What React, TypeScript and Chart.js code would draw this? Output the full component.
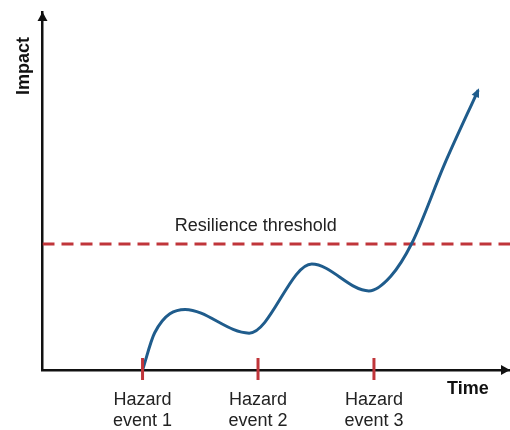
import React, { useEffect, useRef } from "react";
import { Chart, registerables } from "chart.js";

Chart.register(...registerables);

// Data (time units on x, impact units on y)
const curveTime = [2.14, 2.4, 3.05, 4.42, 5.76, 6.98, 7.45, 7.9, 8.6, 9.32];
const curveImpact = [0, 1.04, 1.69, 1.03, 2.96, 2.21, 2.62, 3.54, 5.75, 7.82];
const eventTimes = [2.14, 4.61, 7.09];
const eventLabels = [["Hazard", "event 1"], ["Hazard", "event 2"], ["Hazard", "event 3"]];
const thresholdValue = 3.52;
const thresholdLabel = "Resilience threshold";
const xTitle = "Time";
const yTitle = "Impact";

const FONT = "'Liberation Sans', Arial, sans-serif";
const BLUE = "#1f5c8c";
const RED = "#c0353a";

const overlay = {
  id: "overlay",
  afterDraw(chart: any) {
    const ctx = chart.ctx;
    const xs = chart.scales.x;
    const ys = chart.scales.y;
    const area = chart.chartArea;
    ctx.save();
    // axis arrowheads
    ctx.fillStyle = "#111";
    const ax = area.left;
    ctx.beginPath();
    ctx.moveTo(ax, area.top);
    ctx.lineTo(ax - 5, area.top + 9);
    ctx.lineTo(ax + 5, area.top + 9);
    ctx.closePath();
    ctx.fill();
    const by = area.bottom;
    ctx.beginPath();
    ctx.moveTo(area.right, by);
    ctx.lineTo(area.right - 9, by - 5);
    ctx.lineTo(area.right - 9, by + 5);
    ctx.closePath();
    ctx.fill();

    // event tick marks
    ctx.strokeStyle = RED;
    ctx.lineWidth = 3;
    eventTimes.forEach((t) => {
      const px = xs.getPixelForValue(t);
      ctx.beginPath();
      ctx.moveTo(px, by - 12);
      ctx.lineTo(px, by + 10);
      ctx.stroke();
    });

    // arrowhead at curve end
    const n = curveTime.length;
    const x1 = xs.getPixelForValue(curveTime[n - 2]);
    const y1 = ys.getPixelForValue(curveImpact[n - 2]);
    const x2 = xs.getPixelForValue(curveTime[n - 1]);
    const y2 = ys.getPixelForValue(curveImpact[n - 1]);
    const ang = Math.atan2(y2 - y1, x2 - x1);
    const len = 9;
    const half = 4;
    const tipX = x2 + Math.cos(ang) * 2;
    const tipY = y2 + Math.sin(ang) * 2;
    ctx.fillStyle = BLUE;
    ctx.beginPath();
    ctx.moveTo(tipX, tipY);
    ctx.lineTo(tipX - Math.cos(ang) * len - Math.sin(ang) * half, tipY - Math.sin(ang) * len + Math.cos(ang) * half);
    ctx.lineTo(tipX - Math.cos(ang) * len + Math.sin(ang) * half, tipY - Math.sin(ang) * len - Math.cos(ang) * half);
    ctx.closePath();
    ctx.fill();

    // texts
    ctx.fillStyle = "#222";
    ctx.font = `18px ${FONT}`;
    ctx.textAlign = "center";
    ctx.textBaseline = "alphabetic";
    ctx.fillText(thresholdLabel, xs.getPixelForValue(4.56), ys.getPixelForValue(thresholdValue) - 13);

    ctx.fillStyle = "#111";
    ctx.font = `bold 18px ${FONT}`;
    ctx.textAlign = "left";
    ctx.fillText(xTitle, 447, 394);

    ctx.translate(28.5, 66);
    ctx.rotate(-Math.PI / 2);
    ctx.textAlign = "center";
    ctx.fillText(yTitle, 0, 0);
    ctx.restore();
  },
};

export default function App() {
  const ref = useRef<HTMLCanvasElement | null>(null);
  useEffect(() => {
    if (!ref.current) return;
    const chart = new Chart(ref.current, {
      type: "line",
      data: {
        datasets: [
          {
            data: curveTime.map((t, i) => ({ x: t, y: curveImpact[i] })),
            borderColor: BLUE,
            borderWidth: 3,
            pointRadius: 0,
            cubicInterpolationMode: "monotone",
            fill: false,
          },
          {
            data: [
              { x: 0, y: thresholdValue },
              { x: 10, y: thresholdValue },
            ],
            borderColor: RED,
            borderWidth: 3,
            borderDash: [12, 7],
            pointRadius: 0,
            fill: false,
          },
        ],
      },
      options: {
        animation: false,
        responsive: false,
        maintainAspectRatio: false,
        layout: { padding: { left: 42.5, right: 0, top: 12, bottom: 0 } },
        plugins: { legend: { display: false }, tooltip: { enabled: false } },
        scales: {
          x: {
            type: "linear",
            min: 0,
            max: 10,
            grid: { display: false, drawTicks: false },
            border: { display: true, color: "#111", width: 2.5 },
            afterBuildTicks: (scale: any) => {
              scale.ticks = eventTimes.map((v) => ({ value: v }));
            },
            afterFit: (scale: any) => {
              scale.height = 60;
            },
            ticks: {
              autoSkip: false,
              maxRotation: 0,
              padding: 20,
              color: "#222",
              font: { family: FONT, size: 18, lineHeight: 1.15 },
              callback: (_v: any, i: number) => eventLabels[i],
            },
          },
          y: {
            type: "linear",
            min: 0,
            max: 10,
            grid: { display: false, drawTicks: false },
            border: { display: true, color: "#111", width: 2.5 },
            ticks: { display: false },
          },
        },
      },
      plugins: [overlay],
    } as any);
    return () => chart.destroy();
  }, []);
  return (
    <div style={{ position: "fixed", left: 0, top: 0, width: 510, height: 430, background: "#fff" }}>
      <canvas ref={ref} width={510} height={430} style={{ display: "block", width: 510, height: 430 }} />
    </div>
  );
}
